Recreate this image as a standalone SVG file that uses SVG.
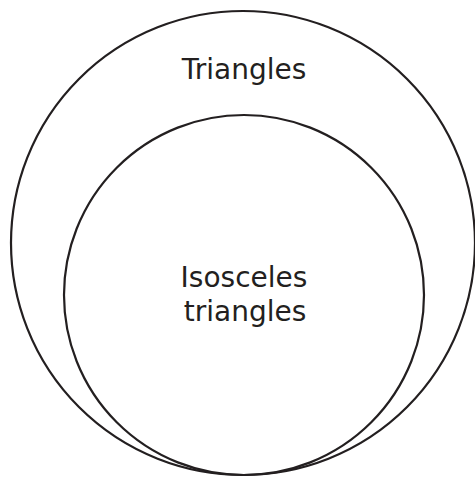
<svg xmlns="http://www.w3.org/2000/svg" width="475" height="478" viewBox="0 0 475 478">
<style>
.set{fill:none;stroke:#231f20;stroke-width:2.2}
.lbl{font-family:"DejaVu Sans",Verdana,sans-serif;font-size:28px;fill:#231f20;text-anchor:middle}
</style>
<rect width="475" height="478" fill="#fff"/>
<g id="triangles">
<circle class="set" cx="243" cy="243" r="232"/>
<text class="lbl" x="244" y="79">Triangles</text>
</g>
<g id="isosceles">
<circle class="set" cx="244" cy="295" r="180"/>
<text class="lbl" x="244" y="287">Isosceles</text>
<text class="lbl" x="245" y="321">triangles</text>
</g>
<g id="connectors"></g>
</svg>
